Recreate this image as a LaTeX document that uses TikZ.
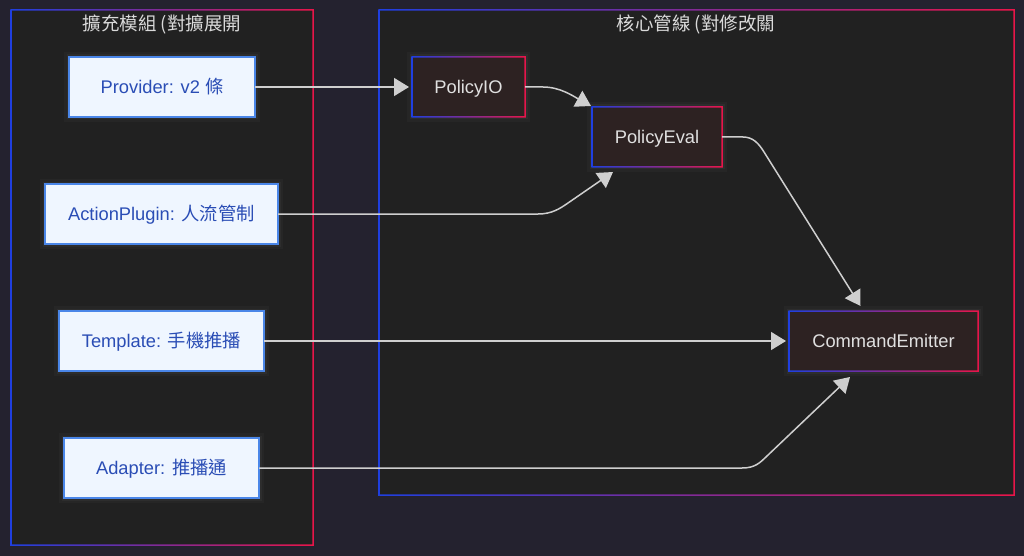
\documentclass[tikz,border=0pt]{standalone}
\usepackage{fontspec}
\setmainfont{Liberation Sans}
\newfontfamily\cjk{Noto Sans CJK TC}
\usetikzlibrary{arrows.meta,calc}
\definecolor{bg}{HTML}{24222F}
\definecolor{clfill}{HTML}{212121}
\definecolor{gblue}{HTML}{1F3FE0}
\definecolor{gred}{HTML}{E8154A}
\definecolor{lfill}{HTML}{EFF6FF}
\definecolor{lborder}{HTML}{4A86E8}
\definecolor{ltext}{HTML}{2A4DB5}
\definecolor{dfill}{HTML}{2D2222}
\definecolor{dtext}{HTML}{E0E0E0}
\definecolor{edgec}{HTML}{CFCFCF}
\definecolor{ttext}{HTML}{DADADA}
\newcommand\gradring[1]{%
  \shade[left color=gblue, right color=gred, even odd rule]
    ([shift={(-0.75,0.75)}]#1.north west) rectangle ([shift={(0.75,-0.75)}]#1.south east)
    ([shift={(0.75,-0.75)}]#1.north west) rectangle ([shift={(-0.75,0.75)}]#1.south east);}
\tikzset{
  glow/.style={preaction={draw=white, draw opacity=0.025, line width=10pt},
               preaction={draw=white, draw opacity=0.035, line width=5pt}},
  cluster/.style={fill=clfill, inner sep=0pt, outer sep=0pt},
  cltitle/.style={text=ttext, font=\cjk\fontsize{18.5}{22}\selectfont, inner sep=0pt,
     text height=15pt, text depth=2pt},
  lnode/.style={glow, fill=lfill, draw=lborder, line width=1.5pt, text=ltext,
     font=\fontsize{18.3}{22}\selectfont, minimum height=60pt, inner sep=0pt, outer sep=0pt,
     text height=15pt, text depth=2pt},
  dnode/.style={glow, fill=dfill, text=dtext,
     font=\fontsize{18.3}{22}\selectfont, minimum height=60pt, inner sep=0pt, outer sep=0pt,
     text height=15pt, text depth=2pt},
  edge/.style={draw=edgec, line width=1.5pt, -{Triangle[length=15pt,width=18pt]}}
}
\begin{document}
\begin{tikzpicture}[x=1pt,y=1pt]
\fill[bg] (0,0) rectangle (1024,-556);
\useasboundingbox (0,0) rectangle (1024,-556);
% clusters
\node[cluster, minimum width=302, minimum height=535] (clA) at (162,-277.5) {};
\gradring{clA}
\node[cluster, minimum width=635, minimum height=485] (clB) at (696.5,-252.5) {};
\gradring{clB}
\node[cltitle] (tA) at (162,-24) {擴充模組 (對擴展開};
\node[cltitle] (tB) at (696,-24) {核心管線 (對修改關};
% nodes
\node[lnode, minimum width=186] (prov) at (162,-87) {Provider: v2 {\cjk 條}};
\node[lnode, minimum width=233] (act) at (161.5,-214) {ActionPlugin: {\cjk 人流管制}};
\node[lnode, minimum width=205] (tpl) at (161.5,-341) {Template: {\cjk 手機推播}};
\node[lnode, minimum width=195] (adp) at (161.5,-468) {Adapter: {\cjk 推播通}};
\node[dnode, minimum width=113] (io) at (468.5,-87) {PolicyIO};
\gradring{io}
\node[dnode, minimum width=130] (eval) at (657,-137) {PolicyEval};
\gradring{eval}
\node[dnode, minimum width=189] (ce) at (883.5,-341) {CommandEmitter};
\gradring{ce}
% edges
\draw[edge] (prov.east) -- ([xshift=-3]io.west);
\draw[edge] (io.east) -- (543,-87) .. controls (560,-87) and (573,-96) .. ([shift={(-1,1)}]eval.north west);
\draw[edge] (act.east) -- (538,-214) .. controls (552,-214) and (560,-208.5) .. (568,-203) -- ([shift={(21,-5)}]eval.south west);
\draw[edge] (eval.east) -- (743,-137) .. controls (753,-137) and (758.7,-143.5) .. (764,-152) -- ([shift={(-23,5)}]ce.north);
\draw[edge] (tpl.east) -- ([xshift=-3]ce.west);
\draw[edge] (adp.east) -- (742,-468) .. controls (755,-468) and (759.8,-462.9) .. (767,-456) -- ([shift={(-33.5,-6)}]ce.south);
\end{tikzpicture}
\end{document}
